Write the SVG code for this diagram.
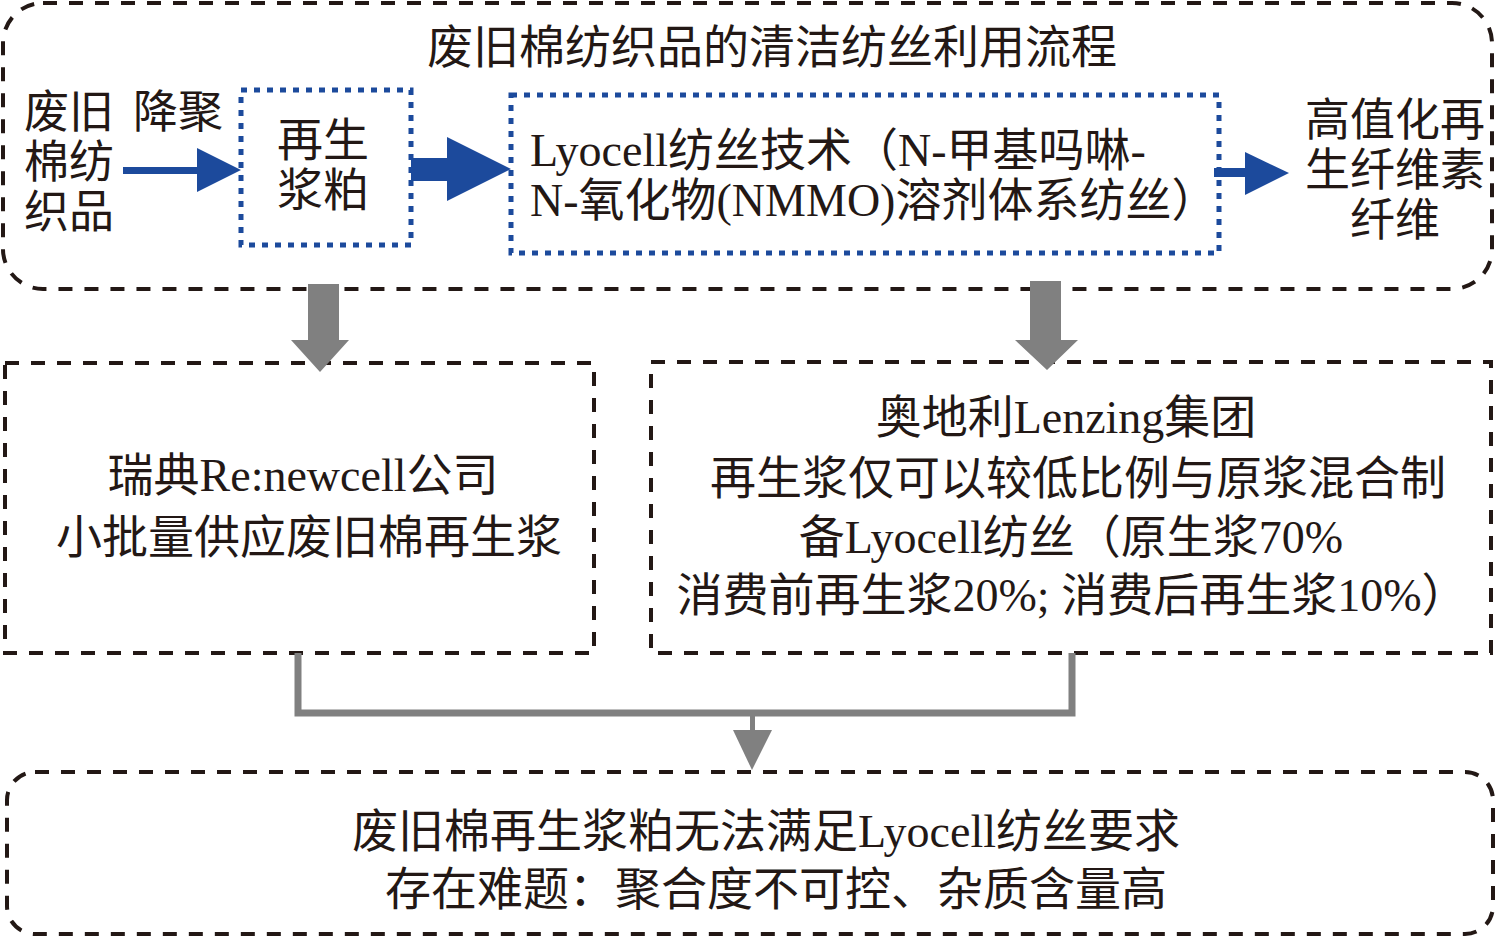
<svg xmlns="http://www.w3.org/2000/svg" width="1500" height="938" viewBox="0 0 1500 938">
<style>
.frame{fill:none;stroke:#231815;stroke-width:4;stroke-dasharray:14 12}
.blue{fill:none;stroke:#1c4a9c;stroke-width:5;stroke-dasharray:6 7}
.t{font-family:'Liberation Serif','Noto Sans CJK SC',serif;font-size:46px;fill:#231815}
.m{text-anchor:middle}
.bf{fill:#1c4a9c}
.gf{fill:#808080}
</style>
<rect width="1500" height="938" fill="#ffffff"/>
<g id="container">
<rect class="frame" x="3" y="3" width="1489" height="286" rx="40" ry="40"/>
<text class="t m" x="772" y="63">废旧棉纺织品的清洁纺丝利用流程</text>
</g>
<g id="node-waste">
<text class="t" x="24" y="128" style="font-size:45px">废旧</text>
<text class="t" x="24" y="178" style="font-size:45px">棉纺</text>
<text class="t" x="24" y="228" style="font-size:45px">织品</text>
</g>
<g id="node-pulp">
<rect class="blue" x="241" y="90" width="170" height="155"/>
<text class="t m" x="323" y="156">再生</text>
<text class="t m" x="323" y="206">浆粕</text>
</g>
<g id="node-lyocell">
<rect class="blue" x="511" y="95" width="708" height="158"/>
<text class="t" x="530" y="166">Lyocell纺丝技术（N-甲基吗啉-</text>
<text class="t" x="530" y="216">N-氧化物(NMMO)溶剂体系纺丝）</text>
</g>
<g id="node-fiber">
<text class="t m" x="1395" y="136" style="font-size:45px">高值化再</text>
<text class="t m" x="1395" y="186" style="font-size:45px">生纤维素</text>
<text class="t m" x="1395" y="236" style="font-size:45px">纤维</text>
</g>
<g id="node-renewcell">
<rect class="frame" x="5" y="363" width="589" height="290"/>
<text class="t m" x="303" y="491">瑞典Re:newcell公司</text>
<text class="t m" x="309" y="553">小批量供应废旧棉再生浆</text>
</g>
<g id="node-lenzing">
<rect class="frame" x="651" y="362" width="840" height="291"/>
<text class="t m" x="1066" y="433">奥地利Lenzing集团</text>
<text class="t m" x="1078" y="494">再生浆仅可以较低比例与原浆混合制</text>
<text class="t m" x="1071" y="553">备Lyocell纺丝（原生浆70%</text>
<text class="t m" x="1072" y="611">消费前再生浆20%; 消费后再生浆10%）</text>
</g>
<g id="node-problem">
<rect class="frame" x="7" y="772" width="1486" height="162" rx="28" ry="28"/>
<text class="t m" x="766" y="847">废旧棉再生浆粕无法满足Lyocell纺丝要求</text>
<text class="t m" x="776" y="905">存在难题：聚合度不可控、杂质含量高</text>
</g>
<g id="connectors">
<text class="t" x="133" y="128" style="font-size:45px">降聚</text>
<rect class="bf" x="123" y="167" width="76" height="7"/>
<polygon class="bf" points="197,148 241,170 197,192"/>
<rect class="bf" x="411" y="158" width="39" height="23"/>
<polygon class="bf" points="447,137 511,169 447,201"/>
<rect class="bf" x="1214" y="168" width="33" height="9"/>
<polygon class="bf" points="1245,152 1289,173 1245,195"/>
<polygon class="gf" points="308,284 339,284 339,340 349,340 320,372 291,340 308,340"/>
<polygon class="gf" points="1030,281 1061,281 1061,340 1078,340 1047,370 1015,340 1030,340"/>
<polyline points="298,653 298,713 1072,713 1072,653" fill="none" stroke="#808080" stroke-width="7"/>
<rect class="gf" x="750" y="713" width="5" height="20"/>
<polygon class="gf" points="733,730 772,730 752,770"/>
</g>
</svg>
